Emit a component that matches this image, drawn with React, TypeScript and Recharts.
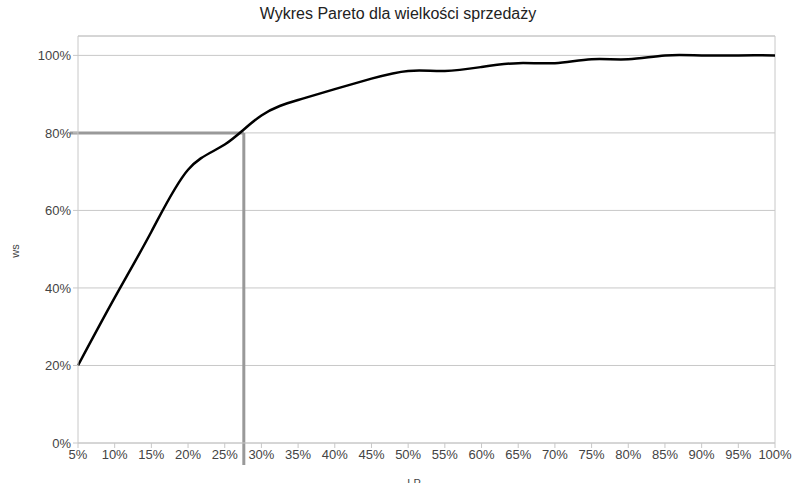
import React from 'react';
import { LineChart, Line, XAxis, YAxis, CartesianGrid, ReferenceLine, Label } from 'recharts';

const lpValues: number[] = [5, 10, 15, 20, 25, 30, 35, 40, 45, 50, 55, 60, 65, 70, 75, 80, 85, 90, 95, 100];
const wsValues: number[] = [20, 37.5, 54.5, 70.5, 77, 84.5, 88.5, 91.3, 94, 96, 96, 97, 98, 98, 99, 99, 100, 100, 100, 100];
const xTicks: number[] = [5, 10, 15, 20, 25, 30, 35, 40, 45, 50, 55, 60, 65, 70, 75, 80, 85, 90, 95, 100];
const yTicks: number[] = [0, 20, 40, 60, 80, 100];
const paretoX = 27.6;
const paretoY = 80;

const data = lpValues.map((lp, i) => ({ lp, ws: wsValues[i] }));

const FONT = '"Liberation Sans", Arial, sans-serif';
const tickStyle = { fontSize: 13, fill: '#444', fontFamily: FONT };

export default function App() {
  return (
    <div style={{ position: 'absolute', left: 0, top: 0, width: 793, height: 483, background: '#fff', overflow: 'hidden' }}>
      <div
        style={{
          position: 'absolute',
          left: 0,
          top: 5,
          width: 796,
          textAlign: 'center',
          fontFamily: FONT,
          fontSize: 16,
          color: '#222',
        }}
      >
        Wykres Pareto dla wielkości sprzedaży
      </div>
      <LineChart width={793} height={483} data={data} margin={{ top: 36, right: 18, bottom: 0, left: 0 }}>
        <CartesianGrid vertical={false} stroke="#c8c8c8" strokeWidth={1} />
        <XAxis
          dataKey="lp"
          type="number"
          domain={[5, 100]}
          ticks={xTicks}
          tickFormatter={(v: number) => `${v}%`}
          interval={0}
          height={40}
          stroke="#c8c8c8"
          tickSize={5}
          tick={tickStyle}
          tickMargin={2}
        >
          <Label
            content={() => (
              <text x={414} y={487} textAnchor="middle" fontSize={11} fill="#444" fontFamily={FONT}>
                LP
              </text>
            )}
          />
        </XAxis>
        <YAxis
          type="number"
          domain={[0, 105]}
          ticks={yTicks}
          tickFormatter={(v: number) => `${v}%`}
          width={78}
          stroke="#c8c8c8"
          tickSize={5}
          tick={tickStyle}
          tickMargin={2}
          allowDataOverflow
        >
          <Label
            content={() => (
              <text
                x={15}
                y={251}
                textAnchor="middle"
                dominantBaseline="central"
                fontSize={11}
                fill="#444"
                fontFamily={FONT}
                transform="rotate(-90 15 251)"
              >
                ws
              </text>
            )}
          />
        </YAxis>
        <ReferenceLine y={105} stroke="#c8c8c8" />
        <ReferenceLine x={100} stroke="#c8c8c8" />
        <ReferenceLine
          segment={[{ x: 3.9, y: paretoY }, { x: paretoX, y: paretoY }]}
          stroke="#999"
          strokeWidth={3}
          ifOverflow="visible"
        />
        <ReferenceLine
          segment={[{ x: paretoX, y: paretoY }, { x: paretoX, y: -5.7 }]}
          stroke="#999"
          strokeWidth={3}
          ifOverflow="visible"
        />
        <Line
          type="natural"
          dataKey="ws"
          stroke="#000"
          strokeWidth={2.5}
          dot={false}
          isAnimationActive={false}
        />
      </LineChart>
    </div>
  );
}
